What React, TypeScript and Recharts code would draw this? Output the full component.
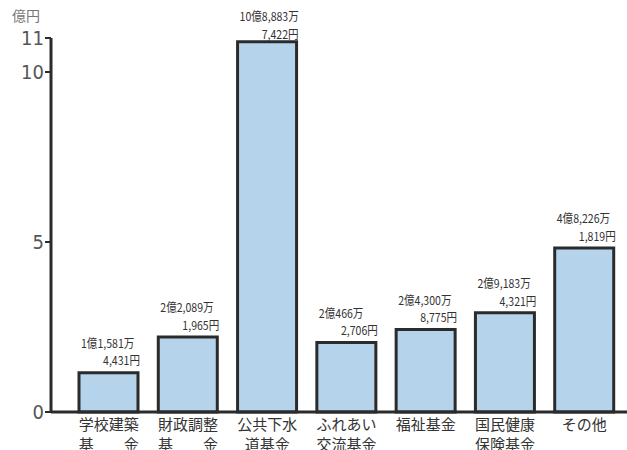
import { BarChart, Bar, XAxis, YAxis, LabelList } from 'recharts'

// 基金別の残高（億円）
const categories = [
  '学校建築\n基　　金',
  '財政調整\n基　　金',
  '公共下水\n道基金',
  'ふれあい\n交流基金',
  '福祉基金',
  '国民健康\n保険基金',
  'その他',
]
const balances = [1.158, 2.209, 10.888, 2.047, 2.43, 2.918, 4.823]
const labelTop = ['1億1,581万', '2億2,089万', '10億8,883万', '2億466万', '2億4,300万', '2億9,183万', '4億8,226万']
const labelBottom = ['4,431円', '1,965円', '7,422円', '2,706円', '8,775円', '4,321円', '1,819円']
const yTicks = [0, 5, 10, 11]

const data = categories.map((name, i) => ({ name, value: balances[i] }))

const cjk = "'Noto Sans CJK JP', sans-serif"
const ink = '#2b2b2b'

const CategoryTick = ({ x, y, payload }: any) => {
  const lines = String(payload.value).split('\n')
  return (
    <text x={x} y={y} textAnchor="middle" fontFamily={cjk} fontSize={15} fill="#333">
      {lines.map((l, i) => (
        <tspan key={i} x={x} y={y + 3 + i * 20} dominantBaseline="central">{l}</tspan>
      ))}
    </text>
  )
}

// narrow print-style figures: squeeze the text horizontally
const Squeezed = ({ x, y, anchor, children }: any) => (
  <text
    transform={`translate(${x},${y}) scale(0.88,1)`}
    dominantBaseline="central"
    textAnchor={anchor}
    fontFamily={cjk}
    fontSize={12}
    fill="#333"
  >
    {children}
  </text>
)

const ValueLabel = (props: any) => {
  const { x, y, width, index } = props
  // keep the tallest bar's label inside the picture
  const y1 = Math.max(y - 30, 16)
  return (
    <g>
      <Squeezed x={x + 2} y={y1} anchor="start">{labelTop[index]}</Squeezed>
      <Squeezed x={x + width + 2} y={y1 + 17.5} anchor="end">{labelBottom[index]}</Squeezed>
    </g>
  )
}

export default function App() {
  return (
    <div style={{ position: 'absolute', left: 0, top: 0, width: 627, height: 450, background: '#fff' }}>
      <div style={{ position: 'absolute', left: 12, top: 5, fontFamily: cjk, fontSize: 14, color: '#777' }}>億円</div>
      <BarChart width={627} height={450} data={data} margin={{ top: 38, right: 0, left: 0, bottom: 0 }}>
        <XAxis
          dataKey="name"
          height={38}
          padding={{ left: 18, right: 3 }}
          axisLine={{ stroke: ink, strokeWidth: 3 }}
          tickLine={false}
          interval={0}
          tick={<CategoryTick />}
        />
        <YAxis
          type="number"
          domain={[0, 11]}
          ticks={yTicks}
          width={51}
          axisLine={{ stroke: ink, strokeWidth: 3 }}
          tickLine={{ stroke: ink, strokeWidth: 2 }}
          tickSize={6}
          tickMargin={1}
          tick={{ fontSize: 20, fill: '#555', fontFamily: "'DejaVu Sans', sans-serif", fontStretch: 'condensed' }}
        />
        <Bar dataKey="value" barSize={59} fill="#b5d3ea" stroke={ink} strokeWidth={3} isAnimationActive={false}>
          <LabelList dataKey="value" content={<ValueLabel />} />
        </Bar>
      </BarChart>
    </div>
  )
}
